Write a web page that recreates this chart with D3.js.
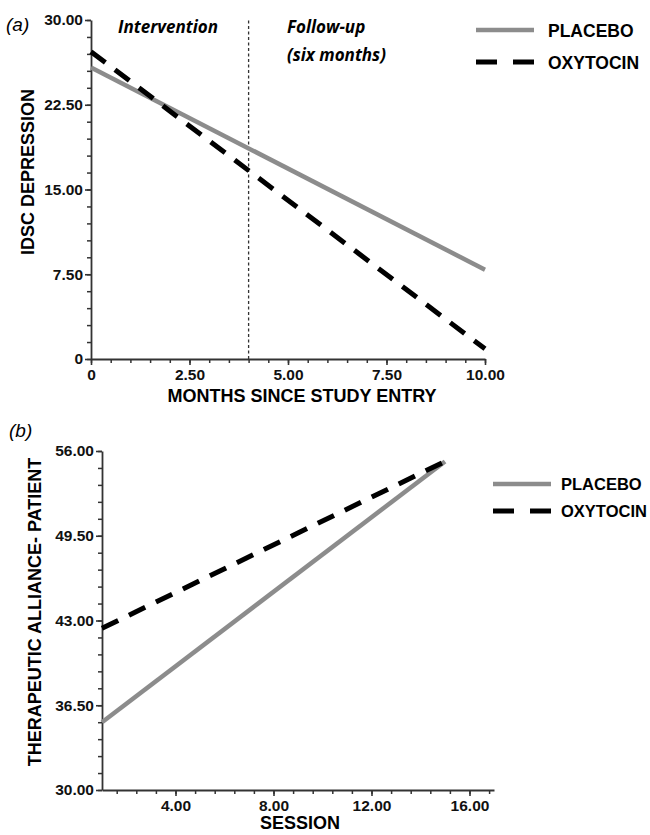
<!DOCTYPE html>
<html>
<head>
<meta charset="utf-8">
<script src="https://cdn.jsdelivr.net/npm/d3@7"></script>
<style>
  body { margin: 0; background: #fff; }
  svg text { font-family: "Liberation Sans", Arial, sans-serif; }
</style>
</head>
<body>
<div id="chart"></div>
<script>
'use strict'

// panel (a) : IDSC depression over months
var monthsA = [0, 10];
var placeboA = [25.8, 7.9];
var oxytocinA = [27.2, 0.9];
var xTicksA = [0, 2.5, 5, 7.5, 10];
var yTicksA = [0, 7.5, 15, 22.5, 30];
var interventionEnd = 4;

// panel (b) : therapeutic alliance over sessions
var sessionsB = [1, 15];
var placeboB = [35.2, 55.2];
var oxytocinB = [42.4, 55.2];
var xTicksB = [4, 8, 12, 16];
var yTicksB = [30, 36.5, 43, 49.5, 56];

var seriesNames = ['PLACEBO', 'OXYTOCIN'];

var width = 650, height = 835;
var GRAY = '#8c8c8c', AXIS = '#333';

var svg = d3.select('#chart').append('svg')
	.attr('width', width)
	.attr('height', height);

function fmt(d){ return d === 0 ? '0' : d.toFixed(2); }

function minorTicks(domain, step, start){
	var out = [];
	for (var v = start; v <= domain[1] + 1e-9; v = +(v + step).toFixed(6)) {
		if (v >= domain[0] - 1e-9) out.push(v);
	}
	return out;
}

function drawPanel(o){
	var g = svg.append('g');
	var x = d3.scaleLinear().domain(o.xDomain).range(o.xRange);
	var y = d3.scaleLinear().domain(o.yDomain).range(o.yRange);

	// minor ticks
	g.append('g')
		.attr('transform', 'translate(0,' + o.yRange[0] + ')')
		.call(d3.axisBottom(x).tickValues(o.xMinor).tickSize(4).tickFormat(''))
		.call(s => s.select('.domain').remove())
		.selectAll('line').attr('stroke', AXIS).attr('stroke-width', 1.5);
	g.append('g')
		.attr('transform', 'translate(' + o.xRange[0] + ',0)')
		.call(d3.axisLeft(y).tickValues(o.yMinor).tickSize(4).tickFormat(''))
		.call(s => s.select('.domain').remove())
		.selectAll('line').attr('stroke', AXIS).attr('stroke-width', 1.5);

	// major axes
	var xa = g.append('g')
		.attr('transform', 'translate(0,' + o.yRange[0] + ')')
		.call(d3.axisBottom(x).tickValues(o.xTicks).tickSize(6).tickSizeOuter(0).tickPadding(4).tickFormat(fmt));
	var ya = g.append('g')
		.attr('transform', 'translate(' + o.xRange[0] + ',0)')
		.call(d3.axisLeft(y).tickValues(o.yTicks).tickSize(6).tickSizeOuter(0).tickPadding(2).tickFormat(fmt));
	[xa, ya].forEach(function(a){
		a.select('.domain').attr('stroke', AXIS).attr('stroke-width', 1.8);
		a.selectAll('.tick line').attr('stroke', AXIS).attr('stroke-width', 1.6);
		a.selectAll('.tick text')
			.attr('fill', '#111')
			.attr('font-weight', 'bold')
			.attr('font-size', 15.5);
		a.attr('font-family', null).attr('font-size', null);
	});

	if (o.divider !== undefined) {
		g.append('line')
			.attr('x1', x(o.divider)).attr('x2', x(o.divider))
			.attr('y1', o.yRange[0]).attr('y2', o.yRange[1])
			.attr('stroke', AXIS).attr('stroke-width', 1.3)
			.attr('stroke-dasharray', '3,2.5');
	}

	var line = d3.line()
		.x(function(d){ return x(d[0]); })
		.y(function(d){ return y(d[1]); });

	g.append('path')
		.datum(d3.zip(o.xs, o.placebo))
		.attr('d', line)
		.attr('fill', 'none')
		.attr('stroke', GRAY)
		.attr('stroke-width', 4.5);
	g.append('path')
		.datum(d3.zip(o.xs, o.oxytocin))
		.attr('d', line)
		.attr('fill', 'none')
		.attr('stroke', '#000')
		.attr('stroke-width', 5)
		.attr('stroke-dasharray', '18,12');

	// axis titles
	g.append('text')
		.attr('x', o.xTitlePos[0]).attr('y', o.xTitlePos[1])
		.attr('text-anchor', 'middle')
		.style('font-weight', 'bold').style('font-size', '18px')
		.text(o.xTitle);
	g.append('text')
		.attr('transform', 'translate(' + o.yTitlePos[0] + ',' + o.yTitlePos[1] + ') rotate(-90)')
		.attr('text-anchor', 'middle')
		.style('font-weight', 'bold').style('font-size', '18px')
		.text(o.yTitle);

	// panel letter
	g.append('text')
		.attr('x', o.letterPos[0]).attr('y', o.letterPos[1])
		.style('font-style', 'italic').style('font-size', '19px')
		.text(o.letter);

	// legend
	var leg = g.selectAll('.legend')
		.data(seriesNames)
		.enter().append('g')
		.attr('transform', function(d, i){ return 'translate(' + o.legend.x + ',' + (o.legend.y + i * o.legend.dy) + ')'; });
	leg.append('line')
		.attr('x1', 0).attr('x2', 58)
		.attr('stroke', function(d, i){ return i === 0 ? GRAY : '#000'; })
		.attr('stroke-width', function(d, i){ return i === 0 ? 4.5 : 5; })
		.attr('stroke-dasharray', function(d, i){ return i === 0 ? null : '21,16'; });
	leg.append('text')
		.attr('x', o.legend.tx).attr('y', o.legend.ty)
		.style('font-weight', 'bold').style('font-size', o.legend.size + 'px')
		.text(function(d){ return d; });

	return { x: x, y: y, g: g };
}

var a = drawPanel({
	xDomain: [0, 10], xRange: [91, 485],
	yDomain: [0, 30], yRange: [359, 20],
	xTicks: xTicksA, yTicks: yTicksA,
	xMinor: minorTicks([0, 10], 0.5, 0), yMinor: minorTicks([0, 30], 1.5, 0),
	xs: monthsA, placebo: placeboA, oxytocin: oxytocinA,
	divider: interventionEnd,
	xTitle: 'MONTHS SINCE STUDY ENTRY', xTitlePos: [302, 402],
	yTitle: 'IDSC DEPRESSION', yTitlePos: [34, 172],
	letter: '(a)', letterPos: [6, 31],
	legend: { x: 476, y: 30, dy: 32, tx: 72, ty: 7, size: 17.5 }
});

// phase labels
[['Intervention', 118, 33], ['Follow-up', 287, 33], ['(six months)', 287, 61]].forEach(function(t){
	a.g.append('text')
		.attr('x', t[1]).attr('y', t[2])
		.style('font-family', '"Open Sans", sans-serif')
		.style('font-weight', 'bold').style('font-style', 'italic').style('font-size', '17px')
		.text(t[0]);
});

drawPanel({
	xDomain: [1, 17], xRange: [102, 494],
	yDomain: [30, 56], yRange: [790, 451],
	xTicks: xTicksB, yTicks: yTicksB,
	xMinor: minorTicks([1, 17], 0.8, 0), yMinor: minorTicks([30, 56], 1.3, 30),
	xs: sessionsB, placebo: placeboB, oxytocin: oxytocinB,
	xTitle: 'SESSION', xTitlePos: [300, 829],
	yTitle: 'THERAPEUTIC ALLIANCE- PATIENT', yTitlePos: [41, 612],
	letter: '(b)', letterPos: [9, 437],
	legend: { x: 493, y: 484, dy: 27, tx: 68, ty: 6, size: 16.5 }
});
</script>
</body>
</html>
